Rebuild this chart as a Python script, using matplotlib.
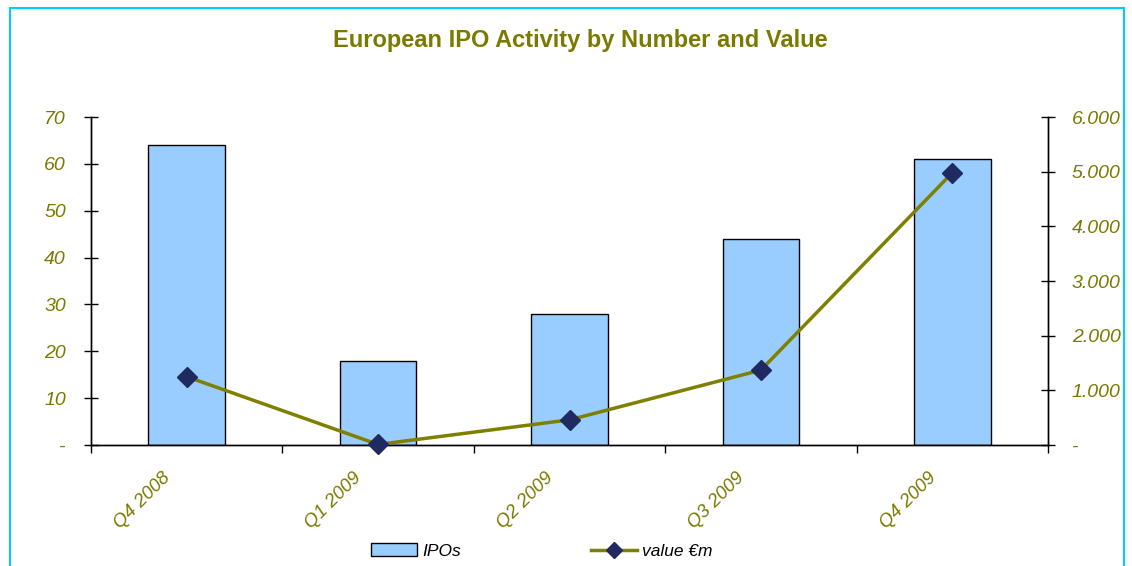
import matplotlib
matplotlib.use("Agg")
import matplotlib.pyplot as plt
from matplotlib.patches import Rectangle, Patch
from matplotlib.lines import Line2D

plt.rcParams['font.family'] = ['Liberation Sans', 'DejaVu Sans']

quarters = ['Q4 2008', 'Q1 2009', 'Q2 2009', 'Q3 2009', 'Q4 2009']
ipos = [64, 18, 28, 44, 61]
value_m = [1250, 10, 460, 1370, 4980]

left_ticks = [0, 10, 20, 30, 40, 50, 60, 70]
left_labels = ['-', '10', '20', '30', '40', '50', '60', '70']
right_ticks = [0, 1000, 2000, 3000, 4000, 5000, 6000]
right_labels = ['-', '1.000', '2.000', '3.000', '4.000', '5.000', '6.000']

olive = '#7A7A00'
line_col = '#808000'
marker_col = '#1F2A60'
bar_col = '#99CCFF'

fig = plt.figure(figsize=(11.32, 5.66), dpi=100)
# cyan frame of the chart area
fig.patches.append(Rectangle((10 / 1132, -0.05), (1124 - 10) / 1132, 1.05 - 8 / 566,
                             transform=fig.transFigure, fill=False,
                             edgecolor='#00CCFF', linewidth=1.5))

ax = fig.add_axes([91 / 1132, 1 - 445 / 566, (1048 - 91) / 1132, (445 - 117) / 566])
x = list(range(len(quarters)))
ax.bar(x, ipos, width=0.4, color=bar_col, edgecolor='black', linewidth=1.0, zorder=2)
ax.set_xlim(-0.5, len(quarters) - 0.5)
ax.set_ylim(0, 70)
ax.set_yticks(left_ticks)
ax.set_yticklabels(left_labels)

ax2 = ax.twinx()
ax2.plot(x, value_m, color=line_col, linewidth=2.5, marker='D', markersize=10,
         markerfacecolor=marker_col, markeredgecolor=marker_col, zorder=3, clip_on=False)
ax2.set_ylim(0, 6000)
ax2.set_yticks(right_ticks)
ax2.set_yticklabels(right_labels)

for a in (ax, ax2):
    a.spines['top'].set_visible(False)
    for s in a.spines.values():
        s.set_linewidth(1.0)

ax.tick_params(axis='y', direction='inout', length=10, width=1, pad=13,
               labelsize=14, labelcolor=olive)
ax2.tick_params(axis='y', direction='inout', length=10, width=1, pad=12,
                labelsize=14, labelcolor=olive)
for lbl in ax.get_yticklabels() + ax2.get_yticklabels():
    lbl.set_fontstyle('italic')

# category boundary ticks on x axis, labels placed by hand
ax.set_xticks([i - 0.5 for i in range(len(quarters) + 1)])
ax.set_xticklabels([])
ax.tick_params(axis='x', direction='out', length=6, width=1)
for i, q in enumerate(quarters):
    ax.annotate(q, xy=(i, 0), xycoords=('data', 'axes fraction'),
                xytext=(-19, -30), textcoords='offset pixels',
                rotation=45, rotation_mode='anchor', ha='right', va='center',
                fontsize=13.5, fontstyle='italic', color=olive)

fig.text(580 / 1132, 1 - 40 / 566, 'European IPO Activity by Number and Value',
         ha='center', va='center', fontsize=17, fontweight='bold', color=olive)

handles = [Patch(facecolor=bar_col, edgecolor='black', label='IPOs'),
           Line2D([0], [0], color=line_col, linewidth=2.5, marker='D', markersize=8,
                  markerfacecolor=marker_col, markeredgecolor=marker_col, label='value €m')]
fig.legend(handles=handles, loc='center', bbox_to_anchor=(542 / 1132, 1 - 551 / 566),
           ncol=2, frameon=False, columnspacing=7.5, handlelength=2.65, handletextpad=0.3,
           prop={'size': 12.5, 'style': 'italic'})

fig.savefig('out.png', dpi=100)
